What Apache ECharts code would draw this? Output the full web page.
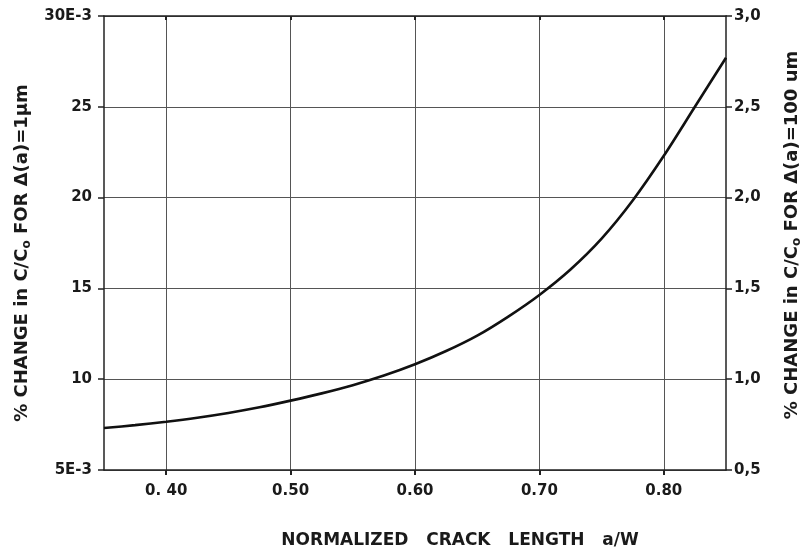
<!DOCTYPE html>
<html>
<head>
<meta charset="utf-8">
<script src="https://cdn.jsdelivr.net/npm/echarts@6/dist/echarts.min.js"></script>
<style>html,body{margin:0;padding:0;background:#fff;}#c{width:804px;height:550px;}</style>
</head>
<body>
<div id="c"></div>
<script>
// Data
var crackLength = [0.35, 0.375, 0.40, 0.425, 0.45, 0.475, 0.50, 0.525, 0.55, 0.575, 0.60, 0.625, 0.65, 0.675, 0.70, 0.725, 0.75, 0.775, 0.80, 0.825, 0.85];
var changeE3 = [7.31, 7.47, 7.66, 7.88, 8.14, 8.45, 8.82, 9.22, 9.67, 10.2, 10.82, 11.55, 12.4, 13.45, 14.64, 16.04, 17.74, 19.84, 22.3, 25.0, 27.7];
var xTickValues = [0.40, 0.50, 0.60, 0.70, 0.80];
var xTickLabels = ['0. 40', '0.50', '0.60', '0.70', '0.80'];
var leftTickValues = [5, 10, 15, 20, 25, 30];
var leftTickLabels = ['5E-3', '10', '15', '20', '25', '30E-3'];
var rightTickValues = [0.5, 1.0, 1.5, 2.0, 2.5, 3.0];
var rightTickLabels = ['0,5', '1,0', '1,5', '2,0', '2,5', '3,0'];

var FONT = 'DejaVu Sans';
var labelStyle = {color: '#1a1a1a', fontFamily: FONT, fontWeight: 'bold', fontSize: 15};
function nameStyle(pad) {
  return {
    color: '#1a1a1a', fontFamily: FONT, fontWeight: 'bold', fontSize: 18, padding: pad,
    rich: {s: {fontFamily: FONT, fontWeight: 'bold', fontSize: 12, color: '#1a1a1a', verticalAlign: 'bottom', padding: [9, 0, 0, 0]}}
  };
}
function pairs(xs, ys) { return xs.map(function (x, i) { return [x, ys[i]]; }); }
function lookup(vals, labs) { return function (v) { for (var i = 0; i < vals.length; i++) { if (Math.abs(vals[i] - v) < 1e-6) return labs[i]; } return ''; }; }

var chart = echarts.init(document.getElementById('c'));
chart.setOption({
  backgroundColor: '#ffffff',
  animation: false,
  grid: {left: 104, right: 78, top: 16, bottom: 80, containLabel: false, outerBoundsMode: 'none'},
  xAxis: [{
    type: 'value', min: 0.35, max: 0.85,
    name: 'NORMALIZED   CRACK   LENGTH   a/W', nameLocation: 'middle', nameGap: 62,
    nameTextStyle: {color: '#1a1a1a', fontFamily: FONT, fontWeight: 'bold', fontSize: 17, padding: [0, 0, 0, 90]},
    axisLine: {show: true, lineStyle: {color: '#222', width: 1.5}},
    axisTick: {show: true, length: 5, customValues: xTickValues, lineStyle: {color: '#222', width: 2}},
    axisLabel: Object.assign({customValues: xTickValues, formatter: lookup(xTickValues, xTickLabels), margin: 14}, labelStyle),
    splitLine: {show: true, lineStyle: {color: '#555', width: 1}}
  }, {
    type: 'value', position: 'top', min: 0.35, max: 0.85,
    axisLine: {show: true, lineStyle: {color: '#222', width: 1.5}},
    axisTick: {show: true, inside: true, length: 4, customValues: xTickValues, lineStyle: {color: '#222', width: 2}},
    axisLabel: {show: false},
    splitLine: {show: false}
  }],
  yAxis: [{
    type: 'value', min: 5, max: 30, interval: 5, position: 'left',
    name: '% CHANGE in C/C{s|o} FOR Δ(a)=1μm', nameLocation: 'middle', nameRotate: 90, nameGap: 66,
    nameTextStyle: nameStyle([0, 20, 0, 0]),
    axisLine: {show: true, lineStyle: {color: '#222', width: 1.5}},
    axisTick: {show: true, length: 6, lineStyle: {color: '#222', width: 1.5}},
    axisLabel: Object.assign({formatter: lookup(leftTickValues, leftTickLabels), margin: 12}, labelStyle),
    splitLine: {show: true, lineStyle: {color: '#555', width: 1}}
  }, {
    type: 'value', min: 0.5, max: 3.0, interval: 0.5, position: 'right',
    name: '% CHANGE in C/C{s|o} FOR Δ(a)=100 um', nameLocation: 'middle', nameRotate: 90, nameGap: 56,
    nameTextStyle: nameStyle([0, 0, 0, 16]),
    axisLine: {show: true, lineStyle: {color: '#222', width: 1.5}},
    axisTick: {show: true, length: 6, lineStyle: {color: '#222', width: 1.5}},
    axisLabel: Object.assign({formatter: lookup(rightTickValues, rightTickLabels), margin: 8}, labelStyle),
    splitLine: {show: false}
  }],
  series: [{
    type: 'line', xAxisIndex: 0, yAxisIndex: 0,
    data: pairs(crackLength, changeE3),
    smooth: 0.3, showSymbol: false, symbol: 'none',
    lineStyle: {color: '#111', width: 2.6}
  }]
});
</script>
</body>
</html>
